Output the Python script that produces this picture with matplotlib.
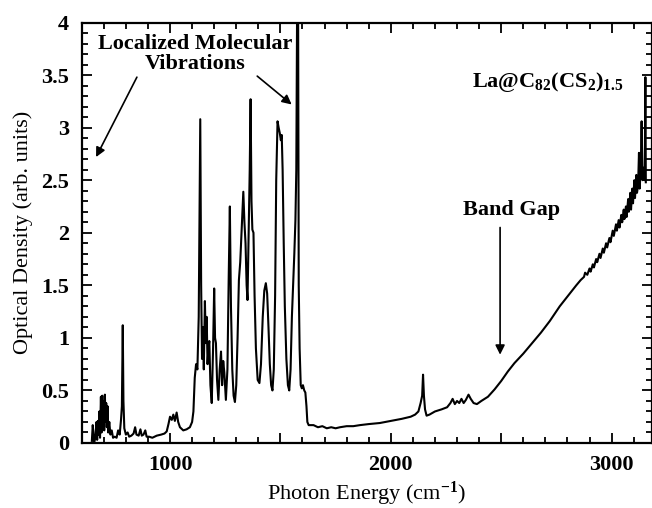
import numpy as np
import matplotlib
matplotlib.use('Agg')
import matplotlib.pyplot as plt
from matplotlib.ticker import MultipleLocator, FuncFormatter

plt.rcParams['font.family'] = 'Liberation Serif'
plt.rcParams['font.weight'] = 'bold'
plt.rcParams['font.size'] = 16
plt.rcParams['mathtext.fontset'] = 'custom'
plt.rcParams['mathtext.rm'] = 'Liberation Serif:bold'
plt.rcParams['mathtext.it'] = 'Liberation Serif:bold'
plt.rcParams['mathtext.bf'] = 'Liberation Serif:bold'

# spectrum: photon energy (cm-1) and optical density
wn_low = [646, 650, 653, 656, 662, 667, 670, 673, 676, 680, 683, 687, 690, 693, 696,
          699, 702, 705, 708, 711, 714, 717, 720, 725, 730, 736, 742, 750, 758, 765,
          772, 778, 782, 786, 789, 793, 800, 808, 815, 825, 835, 842, 848, 858, 866,
          872, 880, 888, 894, 905, 920, 940, 960, 975, 985, 993, 1000, 1008, 1015,
          1022, 1030, 1037, 1045, 1060, 1075, 1090, 1100]
od_low = [0.02, 0.17, 0.10, 0.00, 0.05, 0.20, 0.03, 0.21, 0.08, 0.30, 0.05, 0.44, 0.10,
          0.45, 0.15, 0.40, 0.12, 0.46, 0.20, 0.38, 0.15, 0.35, 0.10, 0.20, 0.08, 0.12,
          0.05, 0.06, 0.05, 0.12, 0.08, 0.22, 0.35, 1.12, 0.40, 0.14, 0.08, 0.10, 0.06,
          0.07, 0.09, 0.15, 0.08, 0.07, 0.13, 0.07, 0.08, 0.12, 0.06, 0.06, 0.05, 0.07,
          0.08, 0.09, 0.11, 0.18, 0.25, 0.22, 0.27, 0.21, 0.29, 0.20, 0.15, 0.12, 0.13,
          0.15, 0.20]

wn_mid = [1106, 1112, 1118, 1124, 1130, 1137, 1141, 1145, 1150, 1153, 1158, 1162, 1166,
          1170, 1174, 1178, 1183, 1189, 1195, 1200, 1204, 1208, 1213, 1219, 1225, 1231,
          1236, 1241, 1246, 1253, 1260, 1266, 1271, 1276, 1282, 1288, 1294, 1300, 1306,
          1312, 1318, 1324, 1332, 1337, 1342, 1347, 1351, 1356, 1361, 1365, 1369, 1373,
          1378, 1383, 1389, 1397, 1405, 1412, 1420, 1427, 1434, 1440, 1446, 1452, 1458,
          1464, 1470, 1476, 1481, 1487, 1492, 1497, 1502, 1506, 1510, 1515, 1520, 1527,
          1534, 1540, 1546, 1552, 1558, 1563, 1568, 1572, 1576, 1580, 1583, 1587, 1592,
          1597, 1602, 1608, 1613, 1618, 1622, 1628]
od_mid = [0.30, 0.62, 0.75, 0.70, 1.20, 3.08, 1.50, 0.80, 1.10, 0.70, 1.35, 0.95, 1.20,
          0.75, 0.90, 0.97, 0.55, 0.38, 0.90, 1.47, 1.00, 0.95, 0.60, 0.41, 0.70, 0.87,
          0.55, 0.78, 0.67, 0.41, 0.70, 1.60, 2.25, 1.30, 0.70, 0.45, 0.39, 0.55, 1.00,
          1.55, 1.72, 2.00, 2.39, 2.10, 1.90, 1.50, 1.36, 2.00, 2.60, 3.27, 2.30, 2.03,
          2.00, 1.40, 0.90, 0.60, 0.57, 0.75, 1.20, 1.45, 1.52, 1.42, 1.10, 0.75, 0.55,
          0.50, 0.70, 1.40, 2.50, 3.06, 3.00, 2.95, 2.88, 2.93, 2.60, 1.90, 1.30, 0.80,
          0.55, 0.50, 0.70, 1.20, 1.52, 1.80, 2.12, 2.60, 4.30, 4.30, 1.50, 0.90, 0.55,
          0.52, 0.55, 0.50, 0.48, 0.35, 0.20, 0.17]

wn_high = [1650, 1670, 1690, 1710, 1730, 1750, 1770, 1800, 1830, 1860, 1900, 1950, 2000,
           2050, 2090, 2110, 2125, 2135, 2142, 2146, 2150, 2155, 2162, 2175, 2200, 2230,
           2255, 2270, 2280, 2290, 2300, 2310, 2320, 2330, 2340, 2352, 2362, 2375, 2390,
           2410, 2440, 2470, 2500, 2530, 2560, 2600, 2640, 2680, 2720, 2765, 2810, 2840,
           2860, 2875, 2880, 2890, 2900, 2905, 2915, 2920, 2930, 2935, 2945, 2950, 2960,
           2965, 2975, 2980, 2990, 2995, 3005, 3010, 3020, 3024, 3032, 3036, 3044, 3048,
           3055, 3058, 3065, 3068, 3075, 3078, 3085, 3088, 3094, 3097, 3103, 3106, 3112,
           3115, 3120, 3124, 3127, 3132, 3136, 3140, 3143, 3147, 3150, 3153, 3155]
od_high = [0.17, 0.15, 0.16, 0.14, 0.15, 0.14, 0.15, 0.16, 0.16, 0.17, 0.18, 0.19, 0.21,
           0.23, 0.25, 0.27, 0.30, 0.38, 0.45, 0.65, 0.45, 0.32, 0.26, 0.27, 0.30, 0.32,
           0.34, 0.38, 0.42, 0.37, 0.40, 0.38, 0.42, 0.38, 0.41, 0.46, 0.42, 0.38, 0.37,
           0.40, 0.44, 0.51, 0.59, 0.68, 0.76, 0.85, 0.95, 1.05, 1.16, 1.30, 1.42, 1.50,
           1.55, 1.58, 1.62, 1.60, 1.66, 1.63, 1.70, 1.67, 1.75, 1.72, 1.80, 1.76, 1.85,
           1.81, 1.90, 1.86, 1.95, 1.91, 2.02, 1.97, 2.08, 2.02, 2.12, 2.05, 2.17, 2.10,
           2.22, 2.13, 2.25, 2.15, 2.32, 2.20, 2.38, 2.22, 2.42, 2.28, 2.50, 2.33, 2.55,
           2.38, 2.45, 2.76, 2.42, 2.60, 3.06, 2.50, 2.55, 2.62, 2.50, 3.48, 2.48]

wn = np.array(wn_low + wn_mid + wn_high)
od = np.array(od_low + od_mid + od_high)

fig = plt.figure(figsize=(6.52, 5.08), dpi=100)
ax = fig.add_axes([81.7 / 652, 65 / 508, (652 - 81.7) / 652, 420.5 / 508])
ax.plot(wn, od, color='black', lw=1.5)

ax.set_xlim(600, 3183)
ax.set_ylim(0, 4)
ax.xaxis.set_major_locator(MultipleLocator(500))
ax.xaxis.set_minor_locator(MultipleLocator(100))
ax.xaxis.set_major_formatter(FuncFormatter(lambda v, p: f'{v:.0f}' if v % 1000 == 0 else ''))
ax.yaxis.set_major_locator(MultipleLocator(0.5))
ax.yaxis.set_minor_locator(MultipleLocator(0.1))
ax.yaxis.set_major_formatter(FuncFormatter(lambda v, p: f'{v:g}'))
ax.tick_params(which='both', direction='in', top=True, right=True, width=1.3, labelsize=16)
ax.tick_params(which='major', length=7, pad=9)
ax.tick_params(which='minor', length=4)
for s in ax.spines.values():
    s.set_linewidth(1.6)

ax.set_xlabel('Photon Energy (cm$^{-1}$)', fontsize=16, labelpad=3)
ax.set_ylabel('Optical Density (arb. units)', fontsize=16, labelpad=6)

# annotations
ax.text(1113, 3.70, 'Localized Molecular\nVibrations', ha='center', va='center',
        fontsize=16, linespacing=1.0)
arrow = dict(arrowstyle='-|>', color='black', lw=1.2, mutation_scale=14, shrinkA=0, shrinkB=0)
ax.annotate('', xy=(665, 2.72), xytext=(850, 3.48), arrowprops=arrow)
ax.annotate('', xy=(1551, 3.22), xytext=(1395, 3.49), arrowprops=arrow)
ax.text(2545, 2.22, 'Band Gap', ha='center', va='center', fontsize=16)
ax.annotate('', xy=(2495, 0.84), xytext=(2495, 2.05), arrowprops=arrow)
ax.text(2712, 3.39, 'La@C$_{82}$(CS$_2$)$_{1.5}$', ha='center', va='baseline', fontsize=16)

fig.savefig('out.png', dpi=100)
